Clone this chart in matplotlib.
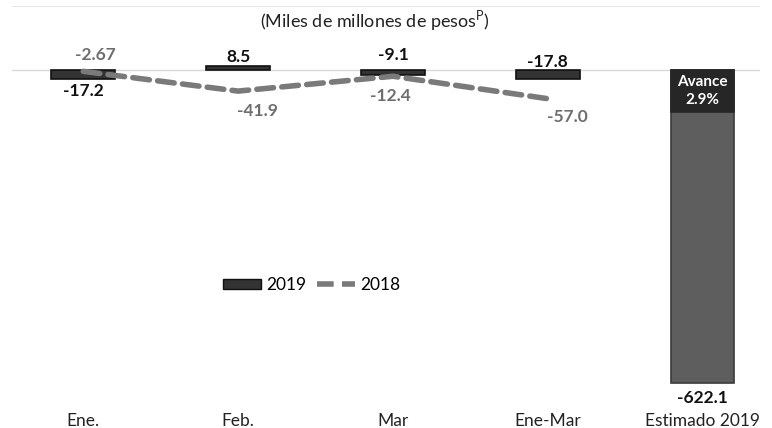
import matplotlib
matplotlib.use("Agg")
import matplotlib.pyplot as plt
from matplotlib.lines import Line2D
from matplotlib.patches import Patch

categories = ["Ene.", "Feb.", "Mar", "Ene-Mar", "Estimado 2019"]
values_2019 = [-17.2, 8.5, -9.1, -17.8, -622.1]
values_2018 = [-2.67, -41.9, -12.4, -57.0]
labels_2019 = ["-17.2", "8.5", "-9.1", "-17.8", "-622.1"]
labels_2018 = ["-2.67", "-41.9", "-12.4", "-57.0"]
avance_text = "Avance\n2.9%"

plt.rcParams['font.family'] = ['Lato', 'DejaVu Sans']

W, H = 772, 428
fig = plt.figure(figsize=(W / 100, H / 100), dpi=100)
ax = fig.add_axes([12 / W, 1 - 395 / H, (760 - 12) / W, (395 - 6) / H])

x = list(range(len(categories)))
colors = ["#333333"] * 4 + ["#5e5e5e"]
edges = ["#111111"] * 4 + ["#3a3a3a"]
ax.bar(x, values_2019, width=0.41, color=colors, edgecolor=edges, linewidth=1.2, zorder=2)

ax.plot(x[:4], values_2018, color="#7a7a7a", linewidth=4, linestyle=(0, (3, 1.5)),
        dash_capstyle="round", zorder=3)

ax.axhline(0, color="#d9d9d9", linewidth=1, zorder=1)
ax.axhline(127, color="#e6e6e6", linewidth=1.5, zorder=1)

ax.set_xlim(-0.46, 4.37)
ax.set_ylim(-645, 127)
for s in ax.spines.values():
    s.set_visible(False)
ax.set_yticks([])
ax.set_xticks(x)
ax.set_xticklabels(categories, fontsize=12.5, color="#222222")
ax.tick_params(axis="x", length=0, pad=13)

# 2019 labels (anchored at zero line, except the estimate bar)
offs_2019 = [(0, -15), (0, 9), (0, 11), (0, 6), (0, -10.5)]
for i, (v, lab) in enumerate(zip(values_2019, labels_2019)):
    yy = v if i == 4 else 0
    ax.annotate(lab, (i, yy), xytext=offs_2019[i], textcoords="offset points",
                ha="center", va="center", fontsize=12.5, fontweight="bold", color="#111111", zorder=5)

# 2018 labels
offs_2018 = [(9, 12), (14, -14), (-2, -14), (14, -13)]
for i, (v, lab) in enumerate(zip(values_2018, labels_2018)):
    ax.annotate(lab, (i, v), xytext=offs_2018[i], textcoords="offset points",
                ha="center", va="center", fontsize=12.5, fontweight="bold", color="#6e6e6e", zorder=5)

# Avance box
ax.bar([4], [-83], width=0.41, color="#262626", edgecolor="#262626", linewidth=1.2, zorder=3)
ax.text(4, -41, avance_text, ha="center", va="center", fontsize=11, fontweight="bold",
        color="white", linespacing=1.35, zorder=6)

# Title
fig.text(375 / W, 1 - 21 / H, "(Miles de millones de pesos$^{\\mathregular{P}}$)",
         ha="center", va="center", fontsize=13, color="#222222")

handles = [Patch(facecolor="#333333", edgecolor="#111111"),
           Line2D([0], [0], color="#7a7a7a", linewidth=4, linestyle=(0, (3, 1.5)))]
leg = fig.legend(handles, ["2019", "2018"], loc="center", bbox_to_anchor=(312 / W, 1 - 285 / H),
                 ncol=2, frameon=False, fontsize=12.5, handlelength=2.2, handleheight=0.5,
                 columnspacing=0.6, handletextpad=0.3)

fig.savefig("out.png", dpi=100, facecolor="white")
